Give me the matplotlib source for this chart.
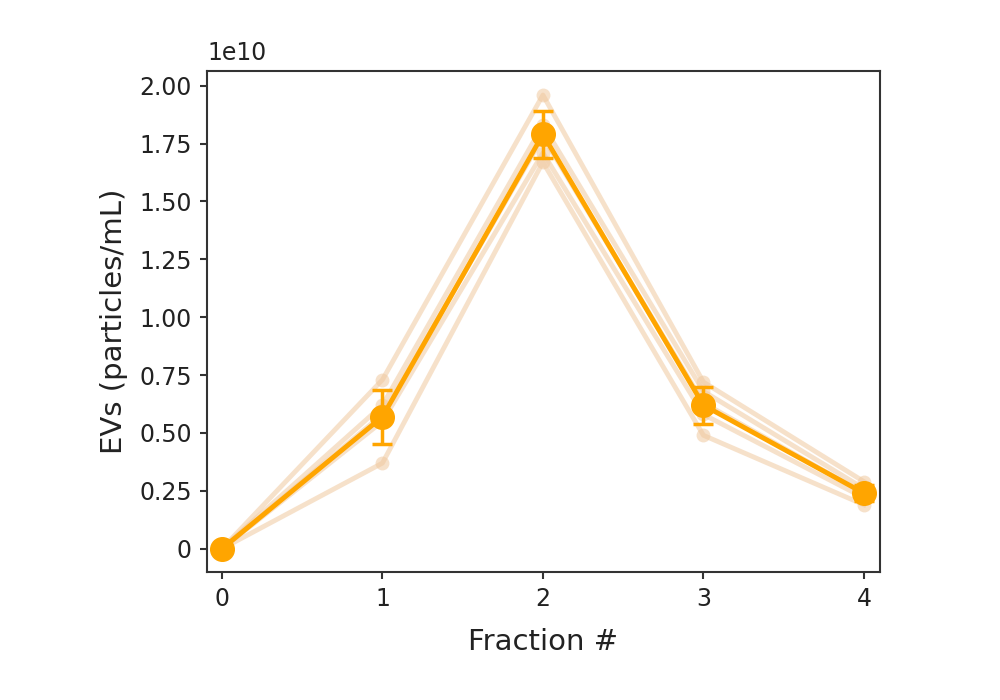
import numpy as np
import matplotlib
matplotlib.use("Agg")
import matplotlib.pyplot as plt
from matplotlib.ticker import FuncFormatter

plt.rcParams['font.family'] = ['DejaVu Sans']

fractions = [0, 1, 2, 3, 4]
# replicate measurements, particles/mL
replicates = [
    [0, 0.73e10, 1.96e10, 0.72e10, 0.29e10],
    [0, 0.62e10, 1.83e10, 0.68e10, 0.26e10],
    [0, 0.58e10, 1.78e10, 0.63e10, 0.24e10],
    [0, 0.55e10, 1.71e10, 0.58e10, 0.22e10],
    [0, 0.37e10, 1.67e10, 0.49e10, 0.19e10],
]
yticks = [0, 0.25e10, 0.5e10, 0.75e10, 1.0e10, 1.25e10, 1.5e10, 1.75e10, 2.0e10]

data = np.array(replicates)
mean = data.mean(axis=0)
sd = data.std(axis=0)

fig = plt.figure(figsize=(10, 7), dpi=100)
ax = fig.add_axes([0.207, 0.183, 0.673, 0.716])

for rep in replicates:
    ax.plot(fractions, rep, color='#f0c9a0', alpha=0.55, lw=3.5,
            marker='o', ms=10, mec='none', zorder=1)

err = sd.copy()
err[0] = 0
ax.errorbar(fractions, mean, yerr=err, color='#ffa500', lw=3.5,
            marker='o', ms=17, capsize=7, capthick=2.5, elinewidth=2.5, zorder=3)

ax.set_xlim(-0.093, 4.1)
ax.set_ylim(-0.1e10, 2.065e10)
ax.set_xticks(fractions)
ax.set_yticks(yticks)
ax.yaxis.set_major_formatter(FuncFormatter(lambda v, p: '0' if v == 0 else '%.2f' % (v / 1e10)))
ax.text(0.0, 1.012, '1e10', transform=ax.transAxes, fontsize=17, ha='left', va='bottom',
        color='#222222')

for s in ax.spines.values():
    s.set_linewidth(1.5)
    s.set_color('#333333')
ax.tick_params(labelsize=17, width=1.5, length=5, pad=6, colors='#333333', labelcolor='#222222')
ax.set_xlabel('Fraction #', fontsize=21, color='#222222', labelpad=12)
ax.set_ylabel('EVs (particles/mL)', fontsize=21, color='#222222', labelpad=8)

fig.savefig('out.png', dpi=100)
